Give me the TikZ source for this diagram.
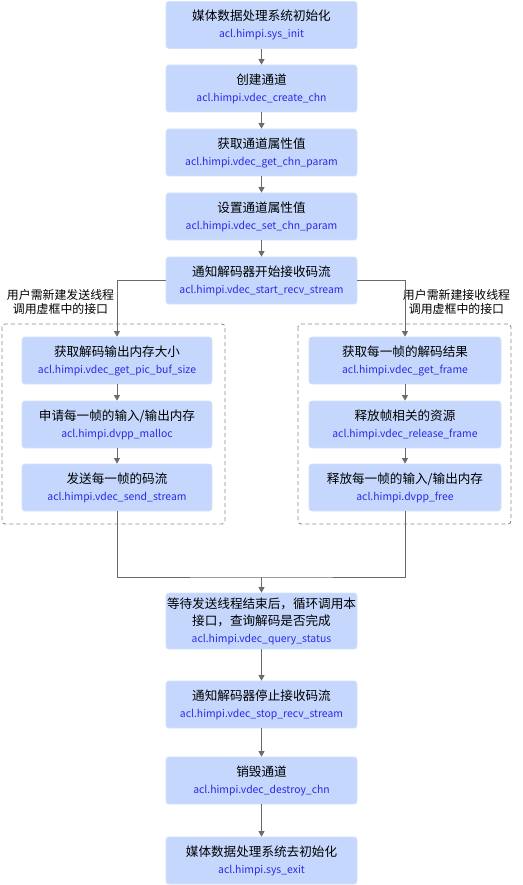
\documentclass[tikz,border=0pt]{standalone}
\usepackage{fontspec}
\setmainfont{Noto Sans CJK SC}
\usetikzlibrary{arrows.meta}
\definecolor{boxfill}{HTML}{C5D7FC}
\definecolor{boxedge}{HTML}{D3E0FD}
\definecolor{apiblue}{HTML}{2A2AEA}
\definecolor{linegray}{HTML}{6A6A6A}
\definecolor{framegray}{HTML}{8A8A8A}
\newcommand{\api}[1]{{\fontsize{10.4}{17}\selectfont\color{apiblue}#1}}
\begin{document}
\begin{tikzpicture}[x=1pt,y=-1pt,
  stepbox/.style={draw=boxedge,fill=boxfill,rounded corners=3pt,line width=0.8pt,
    minimum width=191pt,minimum height=47pt,align=center,inner sep=0pt,text=black,
    font=\fontsize{12.6}{17}\selectfont},
  arr/.style={draw=linegray,line width=0.8pt,-{Triangle[width=6pt,length=5.5pt]}},
  ln/.style={draw=linegray,line width=0.8pt},
  frame/.style={draw=framegray,line width=0.9pt,dash pattern=on 4pt off 3pt,rounded corners=3pt},
  lbl/.style={align=center,font=\fontsize{11.9}{14.5}\selectfont,inner sep=0pt}]
\useasboundingbox (0,0) rectangle (522,885);
\node[stepbox] (b1) at (261.5,25) {媒体数据处理系统初始化\\\api{acl.himpi.sys\_init}};
\node[stepbox] (b2) at (261.5,88.5) {创建通道\\\api{acl.himpi.vdec\_create\_chn}};
\node[stepbox] (b3) at (261.5,152.5) {获取通道属性值\\\api{acl.himpi.vdec\_get\_chn\_param}};
\node[stepbox] (b4) at (261.5,216.5) {设置通道属性值\\\api{acl.himpi.vdec\_set\_chn\_param}};
\node[stepbox] (b5) at (261.5,280.5) {通知解码器开始接收码流\\\api{acl.himpi.vdec\_start\_recv\_stream}};
\node[stepbox,minimum width=190pt] (l1) at (117,360.5) {获取解码输出内存大小\\\api{acl.himpi.vdec\_get\_pic\_buf\_size}};
\node[stepbox,minimum width=190pt] (l2) at (117,424.5) {申请每一帧的输入/输出内存\\\api{acl.himpi.dvpp\_malloc}};
\node[stepbox,minimum width=190pt] (l3) at (117,487.5) {发送每一帧的码流\\\api{acl.himpi.vdec\_send\_stream}};
\node[stepbox,minimum width=192pt] (r1) at (405,360.5) {获取每一帧的解码结果\\\api{acl.himpi.vdec\_get\_frame}};
\node[stepbox,minimum width=192pt] (r2) at (405,424.5) {释放帧相关的资源\\\api{acl.himpi.vdec\_release\_frame}};
\node[stepbox,minimum width=192pt] (r3) at (405,487.5) {释放每一帧的输入/输出内存\\\api{acl.himpi.dvpp\_free}};
\node[stepbox,minimum height=56pt] (b6) at (261.5,621) {等待发送线程结束后，循环调用本\\接口，查询解码是否完成\\\api{acl.himpi.vdec\_query\_status}};
\node[stepbox] (b7) at (261.5,704.5) {通知解码器停止接收码流\\\api{acl.himpi.vdec\_stop\_recv\_stream}};
\node[stepbox] (b8) at (261.5,780.5) {销毁通道\\\api{acl.himpi.vdec\_destroy\_chn}};
\node[stepbox] (b9) at (261.5,860.5) {媒体数据处理系统去初始化\\\api{acl.himpi.sys\_exit}};
\draw[frame] (2,324) rectangle (225,524);
\draw[frame] (298,324) rectangle (511,524);
\node[lbl] (lt) at (60.5,302) {用户需新建发送线程\\调用虚框中的接口};
\node[lbl] (rt) at (456.5,302) {用户需新建接收线程\\调用虚框中的接口};
\draw[arr] (b1) -- (b2);
\draw[arr] (b2) -- (b3);
\draw[arr] (b3) -- (b4);
\draw[arr] (b4) -- (b5);
\draw[arr] (b5.west) -| (l1.north);
\draw[arr] (b5.east) -| (r1.north);
\draw[arr] (l1) -- (l2);
\draw[arr] (l2) -- (l3);
\draw[arr] (r1) -- (r2);
\draw[arr] (r2) -- (r3);
\coordinate (m) at (261.5,577);
\draw[ln] (l3.south) |- (m) -| (r3.south);
\draw[arr] (m) -- (b6.north);
\draw[arr] (b6) -- (b7);
\draw[arr] (b7) -- (b8);
\draw[arr] (b8) -- (b9);
\end{tikzpicture}
\end{document}
